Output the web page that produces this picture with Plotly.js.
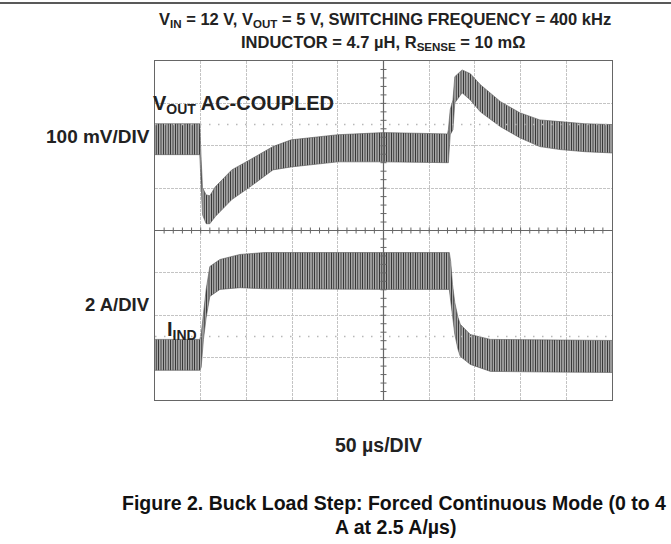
<!DOCTYPE html>
<html>
<head>
<meta charset="utf-8">
<script src="https://cdn.plot.ly/plotly-3.0.1.min.js"></script>
<style>
html,body{margin:0;padding:0;background:#fff;}
#chart{width:671px;height:544px;}
</style>
</head>
<body>
<div id="chart"></div>
<script>
// Time in microseconds (50 µs/DIV)
const timeVout = [0, 49, 50.5, 52, 56, 60, 66, 84, 104, 129, 149, 200, 250, 320, 321, 323, 326, 328, 336, 345, 356, 378, 399, 421, 443, 470, 500];
// VOUT AC-coupled ripple envelope, mV (100 mV/DIV)
const voutUpper = [52, 52, -33, -99, -116, -118, -97, -57, -33, -2, 14, 26, 31, 28, 38, 85, 108, 163, 179, 170, 144, 104, 78, 61, 57, 52, 50];
const voutLower = [-21, -21, -92, -163, -184, -184, -167, -127, -97, -57, -50, -38, -38, -40, -40, 26, 38, 101, 125, 108, 80, 45, 19, -2, -9, -14, -17];

const timeInd = [0, 49, 50.5, 53, 56, 60, 71, 93, 120, 200, 260, 322, 323.5, 325.5, 328, 331.5, 334, 345, 367, 430, 500];
// Inductor current ripple envelope, A (2 A/DIV)
const indUpper = [0.86, 0.86, 1.09, 2.04, 3.22, 4.30, 4.63, 4.87, 4.96, 4.96, 4.96, 4.96, 4.54, 3.45, 2.60, 1.90, 1.57, 1.09, 0.86, 0.84, 0.81];
const indLower = [-0.60, -0.60, -0.46, 0.86, 1.90, 2.89, 3.22, 3.30, 3.25, 3.22, 3.22, 3.22, 2.75, 1.90, 1.10, 0.39, 0.06, -0.32, -0.65, -0.68, -0.70];

const xRange = [0, 500];
const voutRange = [-600, 200];
const indRange = [-2, 14];

const pattern = {shape: '|', fgcolor: '#1a1a1a', bgcolor: '#a8a8a8', size: 2.4, solidity: 0.3};
const edge = {color: '#555', width: 0.6};

const traces = [
  {x: timeVout, y: voutUpper, type: 'scatter', mode: 'lines', line: edge, hoverinfo: 'skip', showlegend: false},
  {x: timeVout, y: voutLower, type: 'scatter', mode: 'lines', line: edge, fill: 'tonexty', fillcolor: '#a8a8a8', fillpattern: pattern, hoverinfo: 'skip', showlegend: false},
  {x: timeInd, y: indUpper, yaxis: 'y2', type: 'scatter', mode: 'lines', line: edge, hoverinfo: 'skip', showlegend: false},
  {x: timeInd, y: indLower, yaxis: 'y2', type: 'scatter', mode: 'lines', line: edge, fill: 'tonexty', fillcolor: '#a8a8a8', fillpattern: pattern, hoverinfo: 'skip', showlegend: false}
];

// plot area in page pixels
const L = 155, R = 612, T = 61, B = 400, W = 671, H = 544;
const px = X => (X - L) / (R - L);
const py = Y => (B - Y) / (B - T);

const shapes = [];
// center graticule lines
shapes.push({type: 'line', xref: 'paper', yref: 'paper', x0: 0, x1: 1, y0: 0.5, y1: 0.5, line: {color: '#666', width: 1.2}});
shapes.push({type: 'line', xref: 'paper', yref: 'paper', x0: 0.5, x1: 0.5, y0: 0, y1: 1, line: {color: '#666', width: 1.2}});
// sub-division ticks on center lines
for (let i = 1; i < 50; i++) {
  shapes.push({type: 'line', xref: 'paper', yref: 'paper', ysizemode: 'pixel', yanchor: 0.5, x0: i / 50, x1: i / 50, y0: -3, y1: 3, line: {color: '#666', width: 1}});
}
for (let i = 1; i < 40; i++) {
  shapes.push({type: 'line', xref: 'paper', yref: 'paper', xsizemode: 'pixel', xanchor: 0.5, y0: i / 40, y1: i / 40, x0: -3, x1: 3, line: {color: '#666', width: 1}});
}
// dotted reference rows
[0.8125, 0.1875].forEach(v => shapes.push({type: 'line', xref: 'paper', yref: 'paper', x0: 0, x1: 1, y0: v, y1: v, line: {color: '#b8b8b8', width: 1.5, dash: '1.5px,7.5px'}}));
// page top rule
shapes.push({type: 'line', xref: 'paper', yref: 'paper', x0: px(0), x1: px(W), y0: py(3), y1: py(3), line: {color: '#222', width: 1.5}});

const txt = '#222';
const F = 'Liberation Sans, Arial, sans-serif';
const annotations = [
  {text: '<b>V<sub>IN</sub> = 12 V, V<sub>OUT</sub> = 5 V, SWITCHING FREQUENCY = 400 kHz</b>', x: px(385), y: py(20), xanchor: 'center', yanchor: 'middle', font: {size: 16.5, color: txt, family: F}},
  {text: '<b>INDUCTOR = 4.7 µH, R<sub>SENSE</sub> = 10 mΩ</b>', x: px(383), y: py(43), xanchor: 'center', yanchor: 'middle', font: {size: 16.5, color: txt, family: F}},
  {text: '<b>V<sub>OUT</sub> AC-COUPLED</b>', x: px(151), y: py(104), xanchor: 'left', yanchor: 'middle', font: {size: 20, color: txt, family: F}},
  {text: '<b>100 mV/DIV</b>', x: px(152), y: py(136), xanchor: 'right', yanchor: 'middle', font: {size: 19, color: txt, family: F}},
  {text: '<b>2 A/DIV</b>', x: px(152), y: py(304), xanchor: 'right', yanchor: 'middle', font: {size: 18.5, color: txt, family: F}},
  {text: '<b>I<sub>IND</sub></b>', x: px(165), y: py(330), xanchor: 'left', yanchor: 'middle', font: {size: 20, color: txt, family: F}},
  {text: '<b>50 µs/DIV</b>', x: px(378), y: py(445), xanchor: 'center', yanchor: 'middle', font: {size: 19.5, color: txt, family: F}},
  {text: '<b>Figure 2. Buck Load Step: Forced Continuous Mode (0 to 4</b>', x: px(394), y: py(503), xanchor: 'center', yanchor: 'middle', font: {size: 19.5, color: '#111', family: F}},
  {text: '<b>A at 2.5 A/µs)</b>', x: px(395), y: py(527), xanchor: 'center', yanchor: 'middle', font: {size: 19.5, color: '#111', family: F}}
].map(a => Object.assign({xref: 'paper', yref: 'paper', showarrow: false}, a));

const gridStyle = {gridcolor: '#c4c4c4', griddash: '3px,1px', gridwidth: 1};

const layout = {
  width: W, height: H,
  margin: {l: L, r: W - R, t: T, b: H - B, pad: 0},
  paper_bgcolor: '#fff', plot_bgcolor: '#fff',
  showlegend: false,
  xaxis: Object.assign({range: xRange, dtick: 50, tick0: 0, showticklabels: false, ticks: '', zeroline: false, showline: true, mirror: true, linecolor: '#666', linewidth: 1, fixedrange: true}, gridStyle),
  yaxis: Object.assign({range: voutRange, dtick: 100, tick0: 0, showticklabels: false, ticks: '', zeroline: false, showline: true, mirror: true, linecolor: '#666', linewidth: 1, fixedrange: true}, gridStyle),
  yaxis2: {range: indRange, overlaying: 'y', visible: false, showgrid: false, zeroline: false, fixedrange: true},
  shapes: shapes,
  annotations: annotations
};

Plotly.newPlot('chart', traces, layout, {staticPlot: true, displayModeBar: false});
</script>
</body>
</html>
